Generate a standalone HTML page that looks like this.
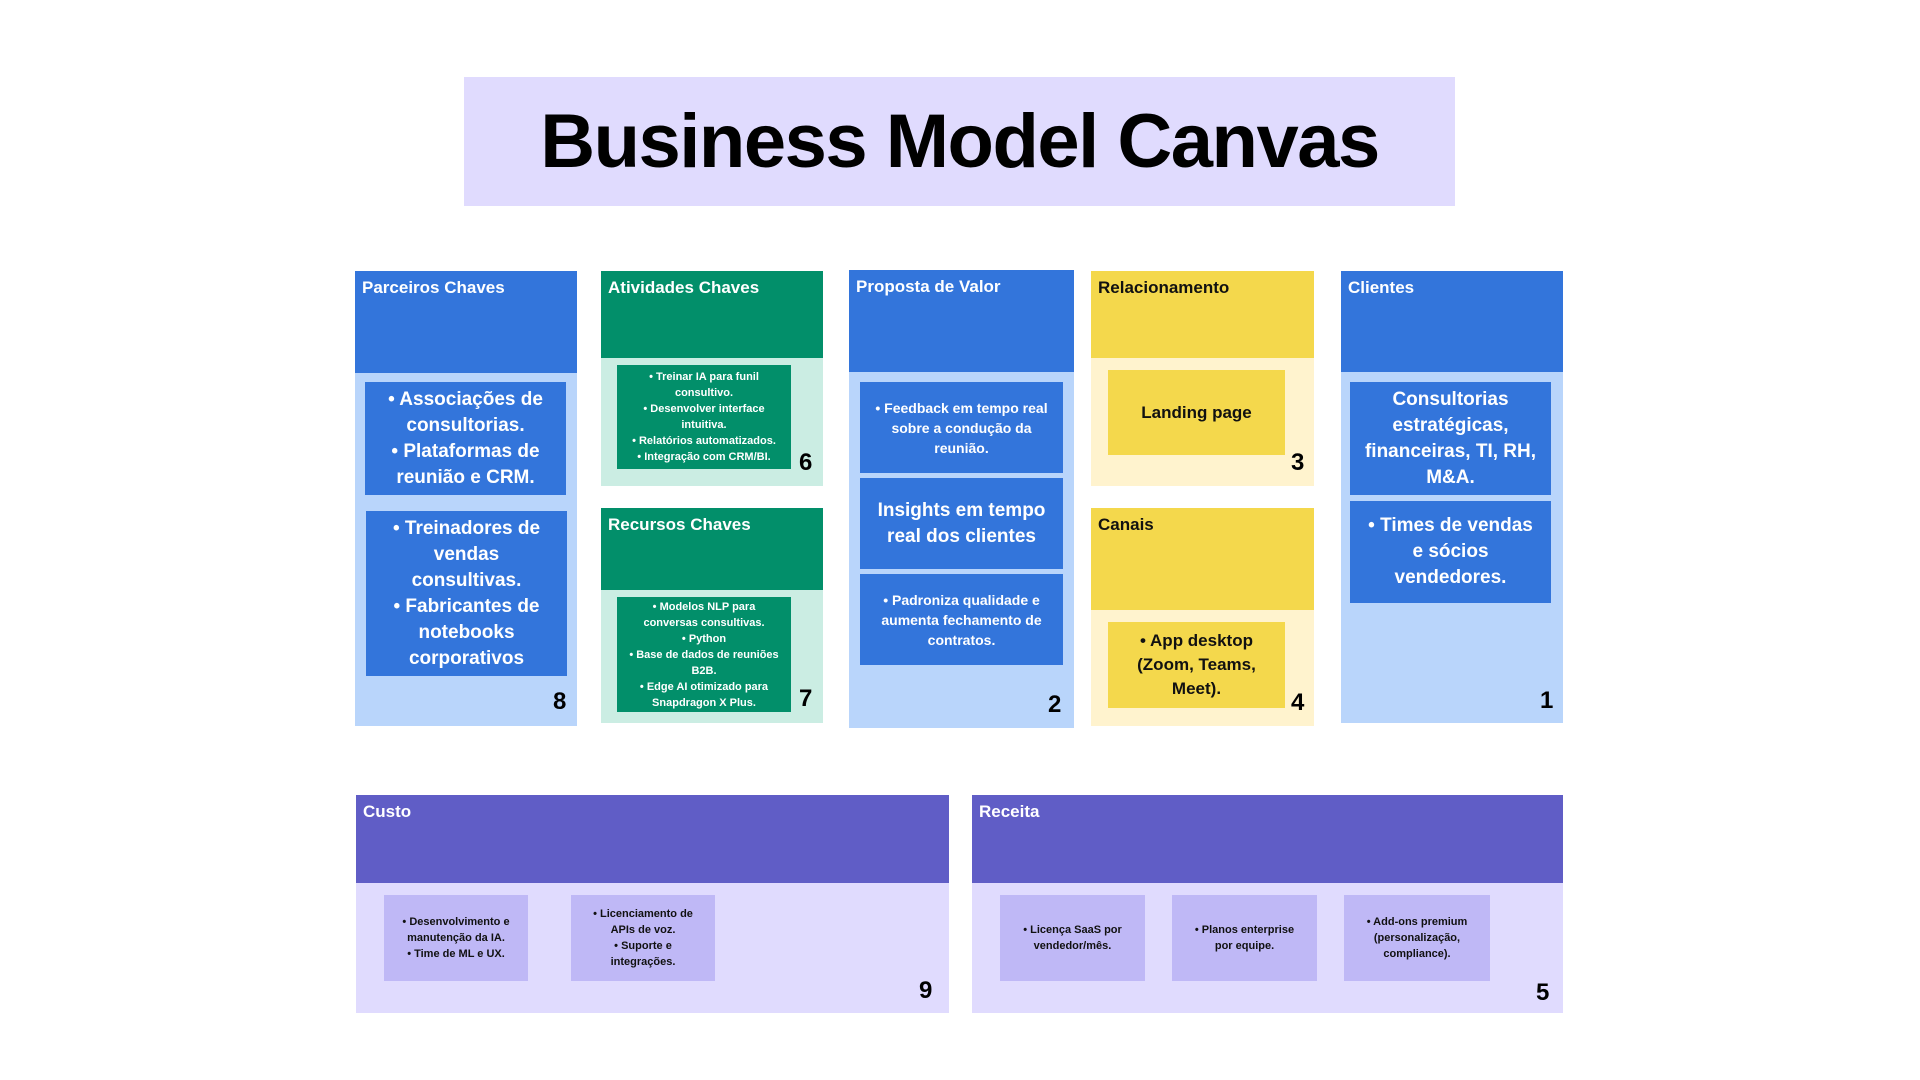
<!DOCTYPE html>
<html><head><meta charset="utf-8"><style>
*{margin:0;padding:0;box-sizing:border-box}
body{width:1920px;height:1080px;background:#fff;position:relative;overflow:hidden;font-family:"Liberation Sans",sans-serif;font-weight:bold}
.a{position:absolute}
.h{color:#fff;font-size:17px;padding:7px 7px}
.hd{color:#111}
.box{position:absolute;display:flex;align-items:center;justify-content:center;text-align:center;color:#fff}
.n{position:absolute;font-size:24px;color:#000}
.title{position:absolute;left:464px;top:77px;width:991px;height:129px;background:#E0DBFE;display:flex;align-items:center;justify-content:center;font-size:76px;letter-spacing:-1.5px;color:#000}
</style></head><body>
<div class="title">Business Model Canvas</div>

<div class="a" style="left:355px;top:271px;width:222px;height:455px;background:#B9D5FB"></div>
<div class="a h" style="left:355px;top:271px;width:222px;height:102px;background:#3375DB">Parceiros Chaves</div>
<div class="box" style="left:365px;top:382px;width:201px;height:113px;background:#3375DB;font-size:19px;line-height:26px;padding:0 10px">• Associações de consultorias.<br>• Plataformas de reunião e CRM.</div>
<div class="box" style="left:366px;top:511px;width:201px;height:165px;background:#3375DB;font-size:19px;line-height:26px;padding:0 18px">• Treinadores de vendas consultivas.<br>• Fabricantes de notebooks corporativos</div>
<div class="n" style="left:553px;top:688px">8</div>

<div class="a" style="left:601px;top:271px;width:222px;height:215px;background:#CBEDE3"></div>
<div class="a h" style="left:601px;top:271px;width:222px;height:87px;background:#028F6A">Atividades Chaves</div>
<div class="box" style="left:617px;top:365px;width:174px;height:104px;background:#028F6A;font-size:11px;line-height:16px;padding:0 14px">• Treinar IA para funil consultivo.<br>• Desenvolver interface intuitiva.<br>• Relatórios automatizados.<br>• Integração com CRM/BI.</div>
<div class="n" style="left:799px;top:449px">6</div>

<div class="a" style="left:601px;top:508px;width:222px;height:215px;background:#CBEDE3"></div>
<div class="a h" style="left:601px;top:508px;width:222px;height:82px;background:#028F6A">Recursos Chaves</div>
<div class="box" style="left:617px;top:597px;width:174px;height:115px;background:#028F6A;font-size:11px;line-height:16px;padding:0 8px">• Modelos NLP para conversas consultivas.<br>• Python<br>• Base de dados de reuniões B2B.<br>• Edge AI otimizado para Snapdragon X Plus.</div>
<div class="n" style="left:799px;top:685px">7</div>

<div class="a" style="left:849px;top:270px;width:225px;height:458px;background:#B9D5FB"></div>
<div class="a h" style="left:849px;top:270px;width:225px;height:102px;background:#3375DB">Proposta de Valor</div>
<div class="box" style="left:860px;top:382px;width:203px;height:91px;background:#3375DB;font-size:14px;line-height:20px;padding:0 4px">• Feedback em tempo real sobre a condução da reunião.</div>
<div class="box" style="left:860px;top:478px;width:203px;height:91px;background:#3375DB;font-size:19px;line-height:26px">Insights em tempo real dos clientes</div>
<div class="box" style="left:860px;top:574px;width:203px;height:91px;background:#3375DB;font-size:14px;line-height:20px;padding:0 4px">• Padroniza qualidade e aumenta fechamento de contratos.</div>
<div class="n" style="left:1048px;top:691px">2</div>

<div class="a" style="left:1091px;top:271px;width:223px;height:215px;background:#FFF3CE"></div>
<div class="a h hd" style="left:1091px;top:271px;width:223px;height:87px;background:#F4D84C">Relacionamento</div>
<div class="box" style="left:1108px;top:370px;width:177px;height:85px;background:#F4D84C;color:#111;font-size:17px">Landing page</div>
<div class="n" style="left:1291px;top:449px">3</div>

<div class="a" style="left:1091px;top:508px;width:223px;height:218px;background:#FFF3CE"></div>
<div class="a h hd" style="left:1091px;top:508px;width:223px;height:102px;background:#F4D84C">Canais</div>
<div class="box" style="left:1108px;top:622px;width:177px;height:86px;background:#F4D84C;color:#111;font-size:17px;line-height:24px">• App desktop<br>(Zoom, Teams,<br>Meet).</div>
<div class="n" style="left:1291px;top:689px">4</div>

<div class="a" style="left:1341px;top:271px;width:222px;height:452px;background:#B9D5FB"></div>
<div class="a h" style="left:1341px;top:271px;width:222px;height:101px;background:#3375DB">Clientes</div>
<div class="box" style="left:1350px;top:382px;width:201px;height:113px;background:#3375DB;font-size:19px;line-height:26px">Consultorias estratégicas, financeiras, TI, RH, M&amp;A.</div>
<div class="box" style="left:1350px;top:501px;width:201px;height:102px;background:#3375DB;font-size:19px;line-height:26px;padding:0 14px">• Times de vendas e sócios vendedores.</div>
<div class="n" style="left:1540px;top:687px">1</div>

<div class="a" style="left:356px;top:795px;width:593px;height:218px;background:#E0DBFE"></div>
<div class="a h" style="left:356px;top:795px;width:593px;height:88px;background:#605DC6">Custo</div>
<div class="box" style="left:384px;top:895px;width:144px;height:86px;background:#BFB8F6;color:#111;font-size:11px;line-height:16px;padding:0 8px">• Desenvolvimento e manutenção da IA.<br>• Time de ML e UX.</div>
<div class="box" style="left:571px;top:895px;width:144px;height:86px;background:#BFB8F6;color:#111;font-size:11px;line-height:16px;padding:0 14px">• Licenciamento de APIs de voz.<br>• Suporte e integrações.</div>
<div class="n" style="left:919px;top:977px">9</div>

<div class="a" style="left:972px;top:795px;width:591px;height:218px;background:#E0DBFE"></div>
<div class="a h" style="left:972px;top:795px;width:591px;height:88px;background:#605DC6">Receita</div>
<div class="box" style="left:1000px;top:895px;width:145px;height:86px;background:#BFB8F6;color:#111;font-size:11px;line-height:16px;padding:0 14px">• Licença SaaS por vendedor/mês.</div>
<div class="box" style="left:1172px;top:895px;width:145px;height:86px;background:#BFB8F6;color:#111;font-size:11px;line-height:16px;padding:0 14px">• Planos enterprise por equipe.</div>
<div class="box" style="left:1344px;top:895px;width:146px;height:86px;background:#BFB8F6;color:#111;font-size:11px;line-height:16px;padding:0 14px">• Add-ons premium (personalização, compliance).</div>
<div class="n" style="left:1536px;top:979px">5</div>
</body></html>
